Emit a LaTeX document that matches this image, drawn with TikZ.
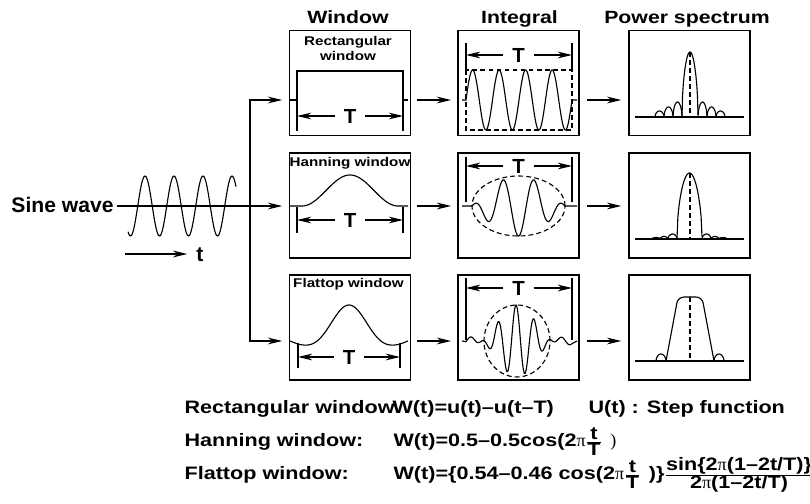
\documentclass[tikz,border=0pt]{standalone}
\usepackage{fontspec}
\newfontfamily\wfont{Liberation Sans}[FakeStretch=1.2]
\newfontfamily\nfont{Liberation Sans}
\newfontfamily\grfont{Liberation Serif}
\usetikzlibrary{arrows.meta, calc}

\newcommand\pisym{{\grfont\mdseries π}}
\newcommand\tovT{$\frac{\hbox{t}}{\hbox{T}}$}
% one lobe of a spectrum: from, to, height, base line
\newcommand\lobe[4]{%
  \draw plot[domain=0:1, samples=30] ({#1+(#2-#1)*\x},{#4-#3*sqrt(abs(sin(180*\x)))});}

\begin{document}
\begin{tikzpicture}[x=0.025cm, y=-0.025cm, line width=0.8pt,
    box/.style={draw, line width=1.1pt, minimum width=3.03cm, minimum height=2.63cm, inner sep=0pt},
    arr/.style={-{Stealth[length=3.6mm, width=1.7mm]}},
    dsh/.style={dash pattern=on 3.5pt off 2.2pt},
    hd/.style={font=\wfont\bfseries\fontsize{12.6}{14}\selectfont, anchor=base},
    lbl/.style={font=\wfont\bfseries\fontsize{9}{10.7}\selectfont, align=center, inner sep=0pt},
    tl/.style={font=\nfont\bfseries\fontsize{14.5}{16}\selectfont, inner xsep=0.21cm, inner ysep=0pt},
    eq/.style={font=\wfont\bfseries\fontsize{12.8}{14}\selectfont, anchor=base west, inner sep=0pt},
    declare function={ftw(\u)=(0.7-0.3*cos(360*\u))*sin(360*(1-2*\u))/(6.28319*(1-2*\u));
                      fw(\u)=ftw(0.5+0.8*(\u-0.5));}
]
    \useasboundingbox (0,0) rectangle (810,504);

    % --- column heads ---
    \node[hd] (hw) at (348,24) {Window};
    \node[hd] (hi) at (519.5,24) {Integral};
    \node[hd] (hp) at (687,24) {Power spectrum};

    % --- boxes: w = window, i = integral, p = power spectrum ---
    \foreach \rw/\yc in {1/83, 2/205.5, 3/327.5}
      \foreach \cl/\xc in {w/350, i/518.5, p/689.5}
        \node[box] (\cl\rw) at (\xc,\yc) {};

    % --- base lines and arrows between the columns ---
    \foreach \rw/\yb in {1/100, 2/206, 3/341} {
      \coordinate (b\rw) at (0,\yb);
      \draw[arr, shorten <=0.15cm, shorten >=0.15cm] (w\rw.east |- b\rw) -- (i\rw.west |- b\rw);
      \draw[arr, shorten <=0.17cm, shorten >=0.17cm] (i\rw.east |- b\rw) -- (p\rw.west |- b\rw);
    }

    % --- input sine wave ---
    \node[font=\nfont\bfseries\fontsize{15}{18}\selectfont, inner sep=2pt] (sw) at (62.5,205) {Sine wave};
    \coordinate (br2) at (250,206);
    \draw[arr, shorten >=0.16cm] (sw.east |- b2) -- (w2.west |- b2);
    \draw[arr, shorten >=0.16cm] (br2) |- (w1.west |- b1);
    \draw[arr, shorten >=0.16cm] (br2) |- (w3.west |- b3);
    \draw plot[domain=128:236, samples=150] (\x,{206-30*cos(12.4138*(\x-145))});
    \node[font=\nfont\bfseries\fontsize{15}{18}\selectfont, inner sep=1pt] (t) at (200,255) {t};
    \coordinate (t0) at (125,254);
    \draw[arr, shorten >=0.18cm] (t0) -- (t0 -| t.west);

    % --- windows ---
    \draw (290,100) -- (297,100) -- (297,71) -- (403,71) -- (403,100) -- (408,100);
    \draw (290,206) -- (302,206) -- plot[domain=302:398, samples=80]
          (\x,{206-31*(0.5-0.5*cos(3.75*(\x-302)))}) -- (408,206);
    \draw (290,341) -- plot[domain=298:400, samples=100]
          (\x,{341-36*fw((\x-298)/102)}) -- (408,341);
    \node[lbl, anchor=north] (lr) at (348,36) {Rectangular\\window};
    \node[lbl, anchor=base] (lh) at (350,167) {Hanning window};
    \node[lbl, anchor=base] (lf) at (348.5,288) {Flattop window};

    % --- integrals ---
    \draw (462,100) -- plot[domain=466:572, samples=160]
          (\x,{100-30*sin(13.585*(\x-466))}) -- (577,100);
    \draw[dsh] (466,70) rectangle (572,130);
    \draw (462,206) -- plot[domain=472:565, samples=160]
          (\x,{206+30*sin(1.9355*(\x-472))*cos(11.613*(\x-518.5))}) -- (577,206);
    \draw[dsh] (518.5,206) ellipse [x radius=1.1625cm, y radius=0.75cm];
    \draw (462,341) -- plot[domain=466:572, samples=200]
          (\x,{341-36*ftw(0.5+0.375*(\x-517)/53)*cos(20*(\x-516))}) -- (577,341);
    \draw[dsh] (517,341) ellipse [x radius=0.825cm, y radius=0.9cm];

    % --- T spans ---
    \foreach \n/\xc/\yc/\xl/\xr/\ya/\yb in {
        tw1/350/116/297/403/71/131, tw2/350/220/297/403/207/233, tw3/349/357/298/400/343/368,
        ti1/518.5/55/466/572/43/70, ti2/518.5/166/466/572/157/202, ti3/518.5/288/466/572/278/340} {
      \node[tl] (\n) at (\xc,\yc) {T};
      \coordinate (l\n) at (\xl,\yc);
      \coordinate (r\n) at (\xr,\yc);
      \draw (\xl,\ya) -- (\xl,\yb) (\xr,\ya) -- (\xr,\yb);
      \draw[arr] (\n) -- (l\n);
      \draw[arr] (\n) -- (r\n);
    }

    % --- power spectra ---
    \foreach \yb in {117, 239, 361}
      \draw (635,\yb) -- (744,\yb);
    \foreach \a/\b/\h in {655/664/6, 664/673/10, 673/682/15, 682/698/65, 698/707/15, 707/716/10, 716/725/6}
      \lobe{\a}{\b}{\h}{117};
    \foreach \a/\b/\h in {652/660/1.5, 660/668/2.5, 668/677/5, 677/702/66, 702/711/5, 711/719/2.5, 719/727/1.5}
      \lobe{\a}{\b}{\h}{239};
    \foreach \a/\b/\h in {656/666/7, 714/724/7}
      \lobe{\a}{\b}{\h}{361};
    \draw[rounded corners=0.15cm] (666,361) -- (678,297) -- (702,297) -- (714,361);
    \foreach \ya/\yb in {52/117, 173/239, 297/361}
      \draw[dsh] (690,\ya) -- (690,\yb);

    % --- formulas ---
    \node[eq] (e1a) at (184,414) {Rectangular window};
    \node[eq] (e1b) at (392,414) {W(t)=u(t)–u(t–T)};
    \node[eq] (e1c) at (588,414) {U(t) : Step function};
    \node[eq] (e2a) at (184,446) {Hanning window:};
    \node[eq] (e2b) at (393,446) {W(t)=0.5–0.5cos(2\pisym\tovT\hspace{0.45em}{\grfont\mdseries)}};
    \node[eq] (e3a) at (184,479) {Flattop window:};
    \node[eq] (e3b) at (393,479) {W(t)=\{0.54–0.46 cos(2\pisym\tovT\hspace{0.45em})\}$\frac{\hbox{sin\{2\pisym(1–2t/T)\}}}{\hbox{2\pisym(1–2t/T)}}$};
\end{tikzpicture}
\end{document}
